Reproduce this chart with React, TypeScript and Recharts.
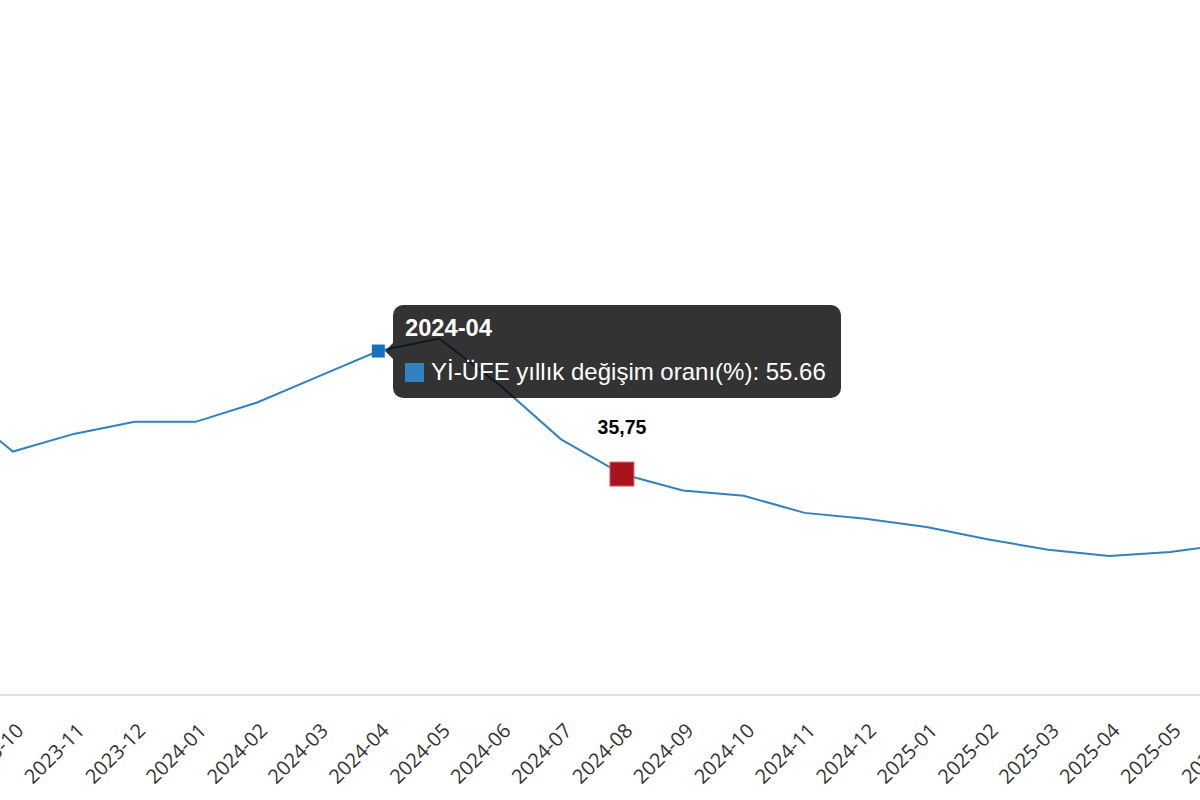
import React from "react";
import { LineChart, Line, XAxis, YAxis, Tooltip, ReferenceDot } from "recharts";

const months = [
  "2023-09", "2023-10", "2023-11", "2023-12", "2024-01", "2024-02", "2024-03", "2024-04",
  "2024-05", "2024-06", "2024-07", "2024-08", "2024-09", "2024-10", "2024-11", "2024-12",
  "2025-01", "2025-02", "2025-03", "2025-04", "2025-05", "2025-06"
];
const ufeRates = [
  47.44, 39.39, 42.25, 44.22, 44.2, 47.29, 51.47, 55.66,
  57.68, 50.09, 41.37, 35.75, 33.09, 32.24, 29.47, 28.52,
  27.2, 25.21, 23.5, 22.5, 23.13, 24.45
];
const seriesName = "Yİ-ÜFE yıllık değişim oranı(%)";
const highlightMonth = "2024-08";
const highlightValue = 35.75;
const highlightLabel = "35,75";
const tooltipIndex = 7;

const data = months.map((m, i) => ({ month: m, value: ufeRates[i] }));

// rotated month labels, anchored just right of the tick
function MonthTick(props: any) {
  const { x, y, payload } = props;
  const ax = x + 12;
  const ay = y + 29;
  return (
    <text
      x={ax}
      y={ay}
      transform={`rotate(-45 ${ax} ${ay})`}
      textAnchor="end"
      fontSize={20}
      fill="#333"
      fontFamily="'Open Sans', sans-serif"
    >
      {payload.value}
    </text>
  );
}

function SquareDot(props: any) {
  const { cx, cy } = props;
  return <rect x={cx - 6.5} y={cy - 6.5} width={13} height={13} fill="#1570c2" />;
}

function HighlightMarker(props: any) {
  const { cx, cy } = props;
  return (
    <g>
      <rect x={cx - 12} y={cy - 12} width={24} height={24} fill="#a8141c" stroke="#d9606a" strokeWidth={1} />
      <text
        x={cx}
        y={cy - 40}
        textAnchor="middle"
        fontSize={19.5}
        fontWeight={700}
        fill="#000"
        fontFamily="'Liberation Sans', Arial, sans-serif"
      >
        {highlightLabel}
      </text>
    </g>
  );
}

function UfeTooltip({ active, payload, label }: any) {
  if (!active || !payload || !payload.length) return null;
  const p = payload[0];
  return (
    <div
      style={{
        position: "relative",
        background: "rgba(0,0,0,0.8)",
        borderRadius: 10,
        padding: "11px 15px 14px 12px",
        color: "#fff",
        fontFamily: "'Liberation Sans', Arial, sans-serif",
        whiteSpace: "nowrap"
      }}
    >
      <div
        style={{
          position: "absolute",
          left: -8,
          top: 38,
          width: 0,
          height: 0,
          borderTop: "8px solid transparent",
          borderBottom: "8px solid transparent",
          borderRight: "8px solid rgba(0,0,0,0.8)"
        }}
      />
      <div style={{ fontWeight: 700, fontSize: 23.7, lineHeight: "24px" }}>{label}</div>
      <div style={{ marginTop: 20, fontSize: 24, lineHeight: "24px", display: "flex", alignItems: "center" }}>
        <span style={{ width: 19, height: 19, background: "#3480c0", marginRight: 7, display: "inline-block" }} />
        {p.name}: {p.value}
      </div>
    </div>
  );
}

export default function App() {
  return (
    <div style={{ position: "fixed", left: 0, top: 0, width: 1200, height: 800, overflow: "hidden", background: "#fff" }}>
      <div style={{ position: "absolute", left: -68, top: 0 }}>
        <LineChart width={1319} height={800} data={data} margin={{ top: 77, right: 20, bottom: 0, left: 20 }}>
          <XAxis
            dataKey="month"
            interval={0}
            tickLine={false}
            axisLine={{ stroke: "#e0e0e0", strokeWidth: 2 }}
            height={105}
            tick={<MonthTick />}
          />
          <YAxis hide domain={[0, 100]} />
          <Tooltip
            content={<UfeTooltip />}
            defaultIndex={tooltipIndex}
            active
            cursor={false}
            position={{ x: 461, y: 305 }}
            allowEscapeViewBox={{ x: true, y: true }}
            wrapperStyle={{ outline: "none" }}
          />
          <Line
            type="linear"
            dataKey="value"
            name={seriesName}
            stroke="#3182bd"
            strokeWidth={2}
            dot={false}
            activeDot={SquareDot}
            isAnimationActive={false}
          />
          <ReferenceDot x={highlightMonth} y={highlightValue} ifOverflow="visible" shape={HighlightMarker} />
        </LineChart>
      </div>
    </div>
  );
}
